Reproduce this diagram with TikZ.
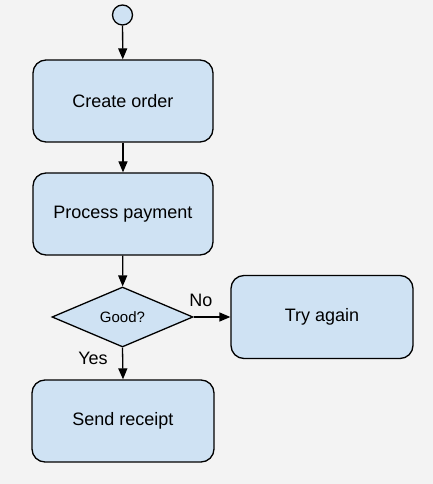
\documentclass[tikz,border=0pt]{standalone}
\usepackage{fontspec}
\setmainfont{Liberation Sans}
\usepackage{xcolor}
\usetikzlibrary{arrows.meta,shapes.geometric}
\definecolor{boxblue}{HTML}{CFE2F3}
\definecolor{bggray}{HTML}{F3F3F3}

\begin{document}
\begin{tikzpicture}[x=1pt,y=1pt]
  \tikzstyle{stepbox}=[rectangle,rounded corners=13pt,draw,line width=1.3pt,fill=boxblue,minimum width=180pt,minimum height=82pt,font=\fontsize{18}{21}\selectfont]
  \tikzstyle{decision}=[diamond,draw,line width=1.3pt,fill=boxblue,minimum width=141pt,minimum height=60pt,inner sep=0pt,font=\fontsize{15}{18}\selectfont]
  \tikzstyle{arr}=[line width=1.3pt,-{Triangle[length=11pt,width=9pt]}]
  \tikzstyle{lbl}=[font=\fontsize{18}{21}\selectfont]
  \fill[bggray] (0,0) rectangle (433,484);
  \node[circle,draw,line width=1.3pt,fill=boxblue,minimum size=20pt,inner sep=0pt] (start) at (122.5,469) {};
  \node[stepbox] (create) at (123,383) {Create order};
  \node[stepbox] (process) at (123,270) {Process payment};
  \node[decision] (good) at (122.5,167) {Good?};
  \node[stepbox,minimum width=182pt,minimum height=83pt] (retry) at (322,167) {Try again};
  \node[stepbox,minimum width=182pt] (send) at (123,63) {Send receipt};
  \node[lbl] (no) at (201,184) {No};
  \node[lbl] (yes) at (93,126) {Yes};
  \draw[arr] (start) -- (create);
  \draw[arr] (create) -- (process);
  \draw[arr] (process) -- (good);
  \draw[arr] (good.east) -- (retry.west);
  \draw[arr] (good.south) -- (send.north);
\end{tikzpicture}
\end{document}
